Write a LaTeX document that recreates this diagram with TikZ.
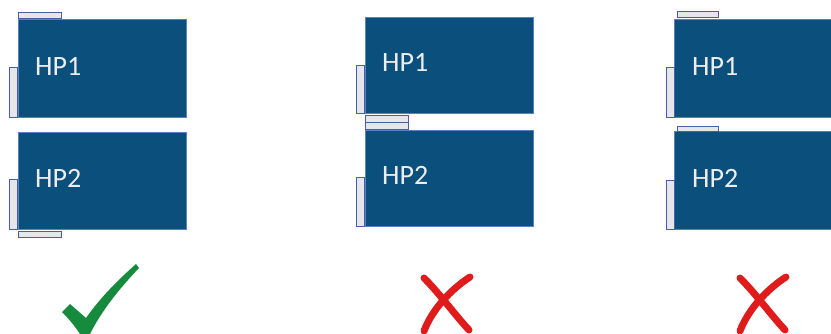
\documentclass[tikz,border=0pt]{standalone}
\usepackage{fontspec}
\setmainfont{Carlito}
\definecolor{boxfill}{HTML}{0B4F7C}
\definecolor{boxline}{HTML}{5A80C8}
\definecolor{barfill}{HTML}{E6E6E8}
\definecolor{barline}{HTML}{4560A8}
\definecolor{okgreen}{HTML}{168B3E}
\definecolor{badred}{HTML}{E01B1B}
\tikzset{
  hpbox/.style={draw=boxline, fill=boxfill, line width=1.2pt, inner sep=0pt,
    anchor=north west, minimum width=168pt},
  sidebar/.style={draw=barline, fill=barfill, line width=1pt, inner sep=0pt,
    anchor=north west},
  vbar/.style={sidebar, minimum width=8pt, minimum height=50pt},
  hbar/.style={sidebar, minimum width=43pt, minimum height=6pt},
  hplabel/.style={text=white!93!black, font=\fontsize{28}{30}\selectfont,
    anchor=base west, inner sep=0pt},
  crossstroke/.style={draw=badred, line width=7pt, line cap=round},
}
\begin{document}
\begin{tikzpicture}[x=1pt, y=-1pt]
\clip (0,0) rectangle (831,334);
\fill[white] (0,0) rectangle (831,334);

% ---- left pair: top bar on HP1, bottom bar on HP2
\node[hpbox, minimum height=98pt] (a1) at (18,19) {};
\node[hbar] (a1t) at (18,12) {};
\node[vbar] (a1l) at (9,67) {};
\node[hplabel] (a1txt) at ([xshift=17pt, yshift=-57pt]a1.north west) {HP1};
\node[hpbox, minimum height=97pt] (a2) at (18,132) {};
\node[vbar] (a2l) at (9,179) {};
\node[hbar] (a2b) at (18,231) {};
\node[hplabel] (a2txt) at ([xshift=17pt, yshift=-56pt]a2.north west) {HP2};

% ---- middle pair: two bars squeezed between the units
\node[hpbox, minimum height=96pt] (b1) at (365,17) {};
\node[vbar, minimum height=48pt] (b1l) at (356,65) {};
\node[hplabel] (b1txt) at ([xshift=17pt, yshift=-55pt]b1.north west) {HP1};
\node[hbar, minimum height=7pt] (b1b) at (365,115) {};
\node[hbar, minimum height=7pt] (b2t) at (365,122) {};
\node[hpbox, minimum height=96pt] (b2) at (365,130) {};
\node[vbar, minimum height=49pt] (b2l) at (356,177) {};
\node[hplabel] (b2txt) at ([xshift=17pt, yshift=-55pt]b2.north west) {HP2};

% ---- right pair: top bars on both units
\node[hpbox, minimum height=98pt] (c1) at (674,19) {};
\node[hbar, minimum width=41pt] (c1t) at (677,11) {};
\node[vbar] (c1l) at (666,67) {};
\node[hplabel] (c1txt) at ([xshift=18pt, yshift=-57pt]c1.north west) {HP1};
\node[hpbox, minimum height=98pt] (c2) at (674,131) {};
\node[hbar, minimum width=41pt, minimum height=5pt] (c2t) at (677,126) {};
\node[vbar, minimum height=49pt] (c2l) at (666,180) {};
\node[hplabel] (c2txt) at ([xshift=18pt, yshift=-57pt]c2.north west) {HP2};

% ---- check mark
\fill[okgreen] (62,312) -- (70,304) -- (86,318)
  .. controls (100,298) and (118,280) .. (136,264)
  -- (139,268) .. controls (120,288) and (102,310) .. (90,334)
  -- (80,334) .. controls (74,325) and (68,318) .. (62,312) -- cycle;

% ---- crosses
\foreach \dx in {0,316} {
  \begin{scope}[xshift=\dx pt]
    \draw[crossstroke] (424,278) .. controls (440,294) and (455,315) .. (469,330);
    \draw[crossstroke] (470,277) .. controls (450,290) and (432,310) .. (424,331);
  \end{scope}
}
\end{tikzpicture}
\end{document}
